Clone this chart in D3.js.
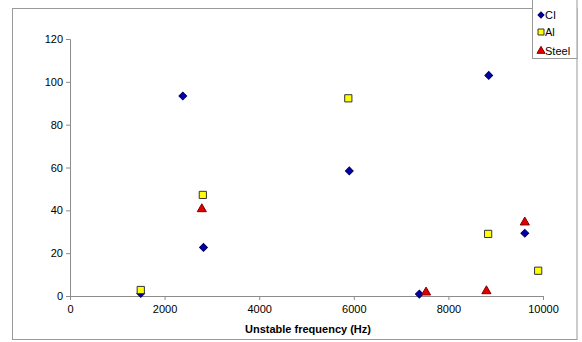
<!DOCTYPE html>
<html>
<head>
<meta charset="UTF-8">
<style>
  body { margin: 0; background: #fff; }
  svg { font-family: "Liberation Sans", Arial, sans-serif; }
  .axis path, .axis line { stroke: #8c8c8c; }
  .axis text { fill: #000; font-size: 11px; }
</style>
</head>
<body>
<script src="https://d3js.org/d3.v7.min.js"></script>
<script>
// series values
var ciX = [1496, 2385, 2822, 5905, 7386, 8853, 9615];
var ciY = [1.2, 93.4, 22.7, 58.4, 0.9, 103, 29.3];
var alX = [1496, 2808, 5884, 8840, 9898];
var alY = [2.8, 47.2, 92.3, 29, 11.8];
var steelX = [2787, 7528, 8804, 9615];
var steelY = [40.6, 1.7, 2.3, 34.4];
var seriesNames = ['CI', 'Al', 'Steel'];
var xTicks = [0, 2000, 4000, 6000, 8000, 10000];
var yTicks = [0, 20, 40, 60, 80, 100, 120];

var W = 582, H = 342;
var svg = d3.select('body').append('svg').attr('width', W).attr('height', H);

// outer chart frame
svg.append('rect')
    .attr('x', 12.5).attr('y', 8.5)
    .attr('width', 564.5).attr('height', 331)
    .attr('fill', '#fff').attr('stroke', '#999');

var x = d3.scaleLinear().domain([0, 10000]).range([70, 543]);
var y = d3.scaleLinear().domain([0, 120]).range([296, 39]);

svg.append('g')
    .attr('class', 'axis')
    .attr('transform', 'translate(0,296)')
    .call(d3.axisBottom(x).tickValues(xTicks).tickSize(4).tickSizeOuter(4).tickPadding(5).tickFormat(d3.format('d')));

svg.append('g')
    .attr('class', 'axis')
    .attr('transform', 'translate(70,0)')
    .call(d3.axisLeft(y).tickValues(yTicks).tickSize(4).tickSizeOuter(4).tickPadding(3).tickFormat(d3.format('d')));

svg.append('text')
    .attr('x', 308).attr('y', 333)
    .attr('text-anchor', 'middle')
    .attr('font-size', '11px').attr('font-weight', 'bold')
    .text('Unstable frequency (Hz)');

// excel-style diamond = square turned 45 degrees
var diamond = d3.symbol().type(d3.symbolSquare).size(30);
var square = d3.symbol().type(d3.symbolSquare).size(52);
var triangle = d3.symbol().type(d3.symbolTriangle).size(36);

function draw(xs, ys, sym, fill, stroke, rot) {
    svg.append('g').selectAll('path')
        .data(xs.map(function(v, i){ return [v, ys[i]]; }))
        .enter().append('path')
        .attr('d', sym)
        .attr('transform', function(d){ return 'translate(' + x(d[0]) + ',' + y(d[1]) + ') rotate(' + rot + ')'; })
        .attr('fill', fill)
        .attr('stroke', stroke)
        .attr('stroke-width', 1);
}

draw(ciX, ciY, diamond, '#0000b0', '#000060', 45);
draw(alX, alY, square, '#ffff00', '#333', 0);
draw(steelX, steelY, triangle, '#e00000', '#800000', 0);

// legend box
var lg = svg.append('g');
lg.append('rect')
    .attr('x', 532.5).attr('y', -1)
    .attr('width', 44.5).attr('height', 59.5)
    .attr('fill', '#fff').attr('stroke', '#999');

var legendSyms = [
    d3.symbol().type(d3.symbolSquare).size(18),
    d3.symbol().type(d3.symbolSquare).size(36),
    d3.symbol().type(d3.symbolTriangle).size(28)
];
var legendRot = [45, 0, 0];
var legendFill = ['#0000b0', '#ffff00', '#e00000'];
var legendStroke = ['#000060', '#333', '#800000'];
var legendY = [15, 32, 51];

seriesNames.forEach(function(name, i) {
    lg.append('path')
        .attr('d', legendSyms[i])
        .attr('transform', 'translate(541,' + legendY[i] + ') rotate(' + legendRot[i] + ')')
        .attr('fill', legendFill[i])
        .attr('stroke', legendStroke[i]);
    lg.append('text')
        .attr('x', 545).attr('y', legendY[i] + 4)
        .attr('font-size', '11px')
        .text(name);
});
</script>
</body>
</html>
